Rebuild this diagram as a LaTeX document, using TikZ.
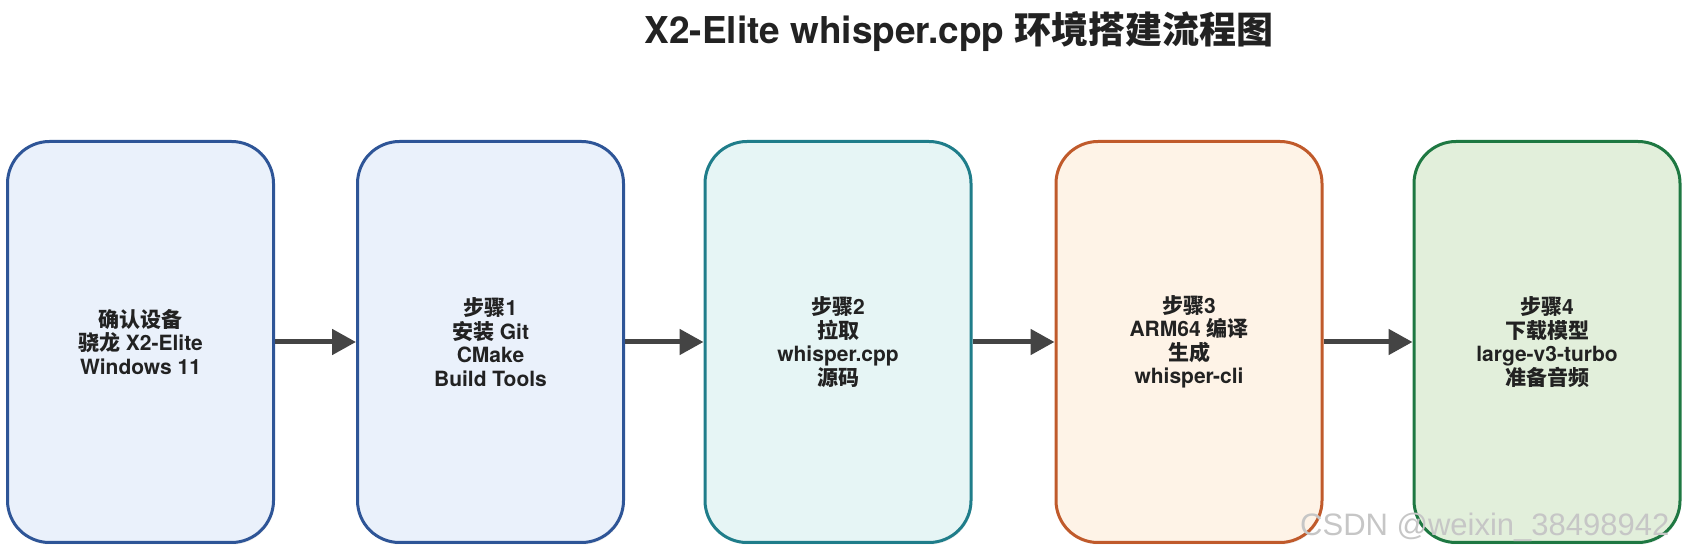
\documentclass[tikz,border=0pt]{standalone}
\usepackage{fontspec}
\setmainfont{TeX Gyre Heros}
\newfontfamily\cjk{Noto Sans CJK SC}
\newfontfamily\markfont{Liberation Sans}
\usetikzlibrary{arrows.meta,shadows}
\definecolor{blueline}{HTML}{2E5597}
\definecolor{bluefill}{HTML}{EAF1FB}
\definecolor{tealline}{HTML}{1F7D8A}
\definecolor{tealfill}{HTML}{E6F5F5}
\definecolor{orangeline}{HTML}{C05A2B}
\definecolor{orangefill}{HTML}{FEF3E7}
\definecolor{greenline}{HTML}{1E7842}
\definecolor{greenfill}{HTML}{E2EFDB}
\definecolor{arrowgray}{HTML}{444444}
\definecolor{textdark}{HTML}{222222}
\begin{document}
\begin{tikzpicture}[x=1pt,y=1pt,
  stepbox/.style={rectangle, rounded corners=42pt, line width=3pt,
    minimum width=266pt, minimum height=401pt, align=center,
    text=textdark, font=\fontsize{21}{23.5}\selectfont\bfseries,
    drop shadow={opacity=0.12, shadow xshift=1pt, shadow yshift=-2pt}},
  flow/.style={line width=5pt, draw=arrowgray,
    -{Triangle[length=24pt,width=25pt,fill=arrowgray]}}]
\useasboundingbox (0,0) rectangle (1688,556);
\node [anchor=base, text=textdark, font=\fontsize{37}{40}\selectfont\bfseries] (title) at (959,512) {X2-Elite whisper.cpp {\cjk 环境搭建流程图}};
\node [stepbox, draw=blueline, fill=bluefill] (dev) at (140.5,214) {{\cjk 确认设备}\\{\cjk 骁龙} X2-Elite\\Windows 11};
\node [stepbox, draw=blueline, fill=bluefill] (s1) at (490.5,214) {{\cjk 步骤}1\\{\cjk 安装} Git\\CMake\\Build Tools};
\node [stepbox, draw=tealline, fill=tealfill] (s2) at (838,214) {{\cjk 步骤}2\\{\cjk 拉取}\\whisper.cpp\\{\cjk 源码}};
\node [stepbox, draw=orangeline, fill=orangefill] (s3) at (1189,214) {{\cjk 步骤}3\\ARM64 {\cjk 编译}\\{\cjk 生成}\\whisper-cli};
\node [stepbox, draw=greenline, fill=greenfill] (s4) at (1547,214) {{\cjk 步骤}4\\{\cjk 下载模型}\\large-v3-turbo\\{\cjk 准备音频}};
\draw [flow] (dev) -- (s1);
\draw [flow] (s1) -- (s2);
\draw [flow] (s2) -- (s3);
\draw [flow] (s3) -- (s4);
\node [anchor=base west, inner sep=0pt, text=gray!45, font=\markfont\fontsize{31}{33}\selectfont] (mark) at (1300,20) {CSDN @weixin\_38498942};
\end{tikzpicture}
\end{document}
